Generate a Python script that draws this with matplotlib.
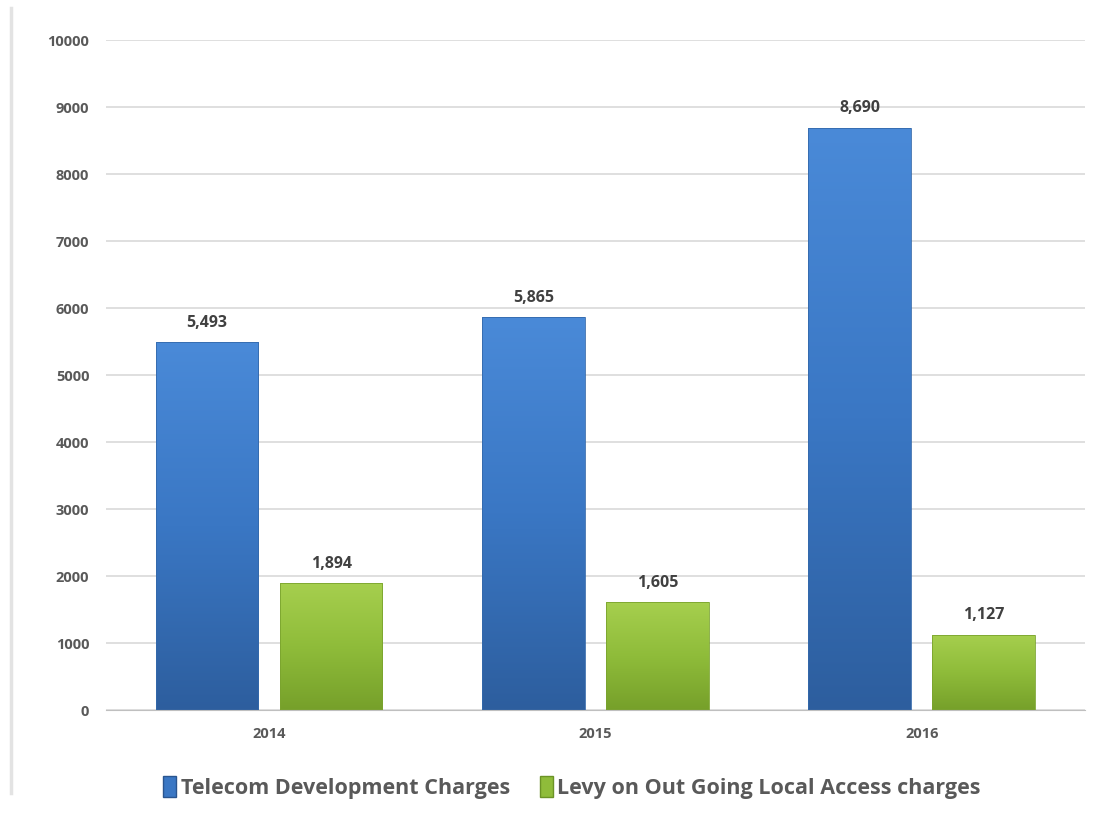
import numpy as np
import matplotlib.pyplot as plt
from matplotlib.patches import Rectangle
from matplotlib.lines import Line2D
from matplotlib.colors import LinearSegmentedColormap

# ---- データ ----
years = ["2014", "2015", "2016"]
tdc_values = [5493, 5865, 8690]      # Telecom Development Charges
levy_values = [1894, 1605, 1127]     # Levy on Out Going Local Access charges
series_names = ["Telecom Development Charges", "Levy on Out Going Local Access charges"]
yticks = [0, 1000, 2000, 3000, 4000, 5000, 6000, 7000, 8000, 9000, 10000]

plt.rcParams["font.family"] = ["Open Sans", "DejaVu Sans"]

fig = plt.figure(figsize=(11.15, 8.18), dpi=100)
ax = fig.add_axes([0.095, 0.132, 0.878, 0.819])

x = np.arange(len(years))
width = 0.315
offset = 0.19

blue_cmap = LinearSegmentedColormap.from_list("b", ["#2d5e9e", "#3a77c4", "#4a8ad8"])
green_cmap = LinearSegmentedColormap.from_list("g", ["#76a02a", "#8fbc3a", "#a6cf4e"])
grad = np.linspace(0, 1, 256).reshape(-1, 1)

def gradient_bars(xs, vals, cmap, edge):
    bars = ax.bar(xs, vals, width=width, color="none", edgecolor=edge, linewidth=0.6, zorder=3)
    for b in bars:
        x0, w, h = b.get_x(), b.get_width(), b.get_height()
        im = ax.imshow(grad, cmap=cmap, origin="lower", aspect="auto",
                       extent=[x0, x0 + w, 0, h], zorder=2)
        im.set_clip_path(b)
    return bars

b1 = gradient_bars(x - offset, tdc_values, blue_cmap, "#3469ab")
b2 = gradient_bars(x + offset, levy_values, green_cmap, "#7aa32e")

for xs, vals in ((x - offset, tdc_values), (x + offset, levy_values)):
    for xi, v in zip(xs, vals):
        ax.text(xi, v + 170, f"{v:,}", ha="center", va="bottom",
                fontsize=11.5, fontweight="bold", color="#404040")

ax.set_xlim(-0.5, 2.5)
ax.set_ylim(0, 10000)
ax.set_yticks(yticks)
ax.set_xticks(x)
ax.set_xticklabels(years)
ax.yaxis.grid(True, color="#d9d9d9", linewidth=1.2, zorder=0)
ax.set_axisbelow(True)
for s in ["top", "right", "left"]:
    ax.spines[s].set_visible(False)
ax.spines["bottom"].set_color("#bfbfbf")
ax.tick_params(axis="both", length=0, labelsize=10.5, labelcolor="#595959", pad=12)
for lbl in ax.get_xticklabels() + ax.get_yticklabels():
    lbl.set_fontweight("bold")

handles = [Rectangle((0, 0), 1, 1, facecolor="#3a77c4", edgecolor="#2a558f"),
           Rectangle((0, 0), 1, 1, facecolor="#8fbc3a", edgecolor="#6b9326")]
fig.legend(handles, series_names, loc="center", bbox_to_anchor=(0.513, 0.037),
           ncol=2, frameon=False, handlelength=0.6, handleheight=1.1,
           handletextpad=0.2, columnspacing=1.4,
           prop={"size": 15.5, "weight": "bold"}, labelcolor="#595959")

# 左側のページ境界線
fig.add_artist(Line2D([0.01, 0.01], [0.03, 0.99], color="#e3e3e3", linewidth=2.5,
                      transform=fig.transFigure))

fig.savefig("out.png", dpi=100)
